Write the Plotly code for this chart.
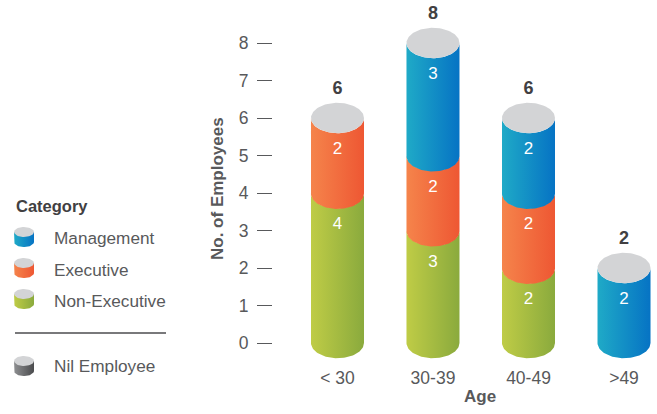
import numpy as np
import plotly.graph_objects as go

W, H = 657, 414

# ---------------- data ----------------
categories = ["< 30", "30-39", "40-49", ">49"]
non_executive = [4, 3, 2, 0]
executive = [2, 2, 2, 0]
management = [0, 3, 2, 2]
series_names = ["Non-Executive", "Executive", "Management"]
y_ticks = [0, 1, 2, 3, 4, 5, 6, 7, 8]
legend_order = ["Management", "Executive", "Non-Executive"]
nil_label = "Nil Employee"

# ---------------- styles ----------------
FONT = "Liberation Sans, Arial, Helvetica, sans-serif"
TXT = "#58595b"
DARK = "#414042"
grad = {
    "Non-Executive": ("#bfcc46", "#8aaa3d"),
    "Executive": ("#f5844b", "#ee5733"),
    "Management": ("#1faac7", "#0673c4"),
}
CAP = "#d3d4d6"
NIL = ("#8e8f91", "#4a4b4d")

HALF = 0.2775   # half bar width in category units
RY = 0.405      # ellipse half height in value units
N = 60

series_vals = {"Non-Executive": non_executive, "Executive": executive, "Management": management}

fig = go.Figure()


def seg_poly(cx, y0, y1, eps=0.0):
    t = np.linspace(0, np.pi, N)
    xs_top = cx - HALF * np.cos(t)
    ys_top = y1 - RY * np.sin(t)
    xs_bot = cx + HALF * np.cos(t)
    ys_bot = (y0 - eps) - RY * np.sin(t)
    xs = np.concatenate([[cx - HALF], xs_top, xs_bot])
    ys = np.concatenate([[y0 - eps], ys_top, ys_bot])
    return xs, ys


seg_text_x, seg_text_y, seg_text = [], [], []
tot_x, tot_y, tot_text = [], [], []
for i, cat in enumerate(categories):
    base = 0
    for name in series_names:
        v = series_vals[name][i]
        if v <= 0:
            continue
        xs, ys = seg_poly(i, base, base + v, eps=0.02 if base > 0 else 0.0)
        c1, c2 = grad[name]
        fig.add_trace(go.Scatter(
            x=xs, y=ys, mode="lines", fill="toself",
            line=dict(width=0, color=c2),
            fillgradient=dict(type="horizontal", colorscale=[[0, c1], [1, c2]]),
            hoverinfo="skip", showlegend=False, xaxis="x", yaxis="y",
        ))
        seg_text_x.append(i)
        seg_text_y.append(base + v - 0.85)
        seg_text.append(str(v))
        base += v
    # top cap
    t = np.linspace(0, 2 * np.pi, 2 * N)
    fig.add_trace(go.Scatter(
        x=i + HALF * np.cos(t), y=base + RY * np.sin(t), mode="lines", fill="toself",
        line=dict(width=0, color=CAP), fillcolor=CAP,
        hoverinfo="skip", showlegend=False, xaxis="x", yaxis="y",
    ))
    tot_x.append(i)
    tot_y.append(base + 0.75)
    tot_text.append(str(base))

fig.add_trace(go.Scatter(
    x=seg_text_x, y=seg_text_y, text=seg_text, mode="text",
    textfont=dict(family=FONT, size=17, color="white"),
    hoverinfo="skip", showlegend=False, cliponaxis=False,
))
fig.add_trace(go.Scatter(
    x=tot_x, y=tot_y, text=tot_text, mode="text",
    textfont=dict(family=FONT, size=18, color=DARK, weight="bold"),
    hoverinfo="skip", showlegend=False, cliponaxis=False,
))

# ---------------- custom legend (pixel overlay axes) ----------------
def icon(cx, cy, c1, c2, h=10, bh=10, ry=5):
    t = np.linspace(0, np.pi, 30)
    xs = np.concatenate([[cx - h, cx - h], cx - h * np.cos(t), [cx + h, cx - h]])
    ys = np.concatenate([[cy, cy + bh], cy + bh + ry * np.sin(t), [cy, cy]])
    fig.add_trace(go.Scatter(
        x=xs, y=ys, mode="lines", fill="toself", line=dict(width=0, color=c2),
        fillgradient=dict(type="horizontal", colorscale=[[0, c1], [1, c2]]),
        hoverinfo="skip", showlegend=False, xaxis="x2", yaxis="y2",
    ))
    t2 = np.linspace(0, 2 * np.pi, 60)
    fig.add_trace(go.Scatter(
        x=cx + h * np.cos(t2), y=cy + ry * np.sin(t2), mode="lines", fill="toself",
        line=dict(width=0, color=CAP), fillcolor=CAP,
        hoverinfo="skip", showlegend=False, xaxis="x2", yaxis="y2",
    ))


annotations = []
legend_rows = [232, 263, 294]
text_rows = [238, 270, 301]
for name, cy, ty in zip(legend_order, legend_rows, text_rows):
    icon(24, cy, *grad[name])
    annotations.append(dict(x=52 / W, y=1 - ty / H, xref="paper", yref="paper", text=name,
                            showarrow=False, xanchor="left", yanchor="middle",
                            font=dict(family=FONT, size=17.2, color=TXT)))
icon(24, 361, *NIL)
annotations.append(dict(x=52 / W, y=1 - 366 / H, xref="paper", yref="paper", text=nil_label,
                        showarrow=False, xanchor="left", yanchor="middle",
                        font=dict(family=FONT, size=17.2, color=TXT)))
annotations.append(dict(x=14 / W, y=1 - 206 / H, xref="paper", yref="paper", text="Category",
                        showarrow=False, xanchor="left", yanchor="middle",
                        font=dict(family=FONT, size=16.5, color=DARK, weight="bold")))
annotations.append(dict(x=217 / W, y=1 - 189 / H, xref="paper", yref="paper", text="No. of Employees",
                        showarrow=False, textangle=-90, xanchor="center", yanchor="middle",
                        font=dict(family=FONT, size=17, color=TXT, weight="bold")))
annotations.append(dict(x=480 / W, y=1 - 396 / H, xref="paper", yref="paper", text="Age",
                        showarrow=False, xanchor="center", yanchor="middle",
                        font=dict(family=FONT, size=17, color=TXT, weight="bold")))

shapes = [dict(type="line", xref="paper", yref="paper", x0=15 / W, x1=166 / W,
               y0=1 - 333 / H, y1=1 - 333 / H, line=dict(color="#4d4d4f", width=1.6))]

plot_left, plot_right = 273, 652
plot_top, plot_bottom = 9.25, 365.5

fig.update_layout(
    width=W, height=H, margin=dict(l=0, r=0, t=0, b=0),
    paper_bgcolor="white", plot_bgcolor="rgba(0,0,0,0)",
    showlegend=False, annotations=annotations, shapes=shapes,
    xaxis=dict(domain=[plot_left / W, plot_right / W], range=[-0.675, 3.293],
               tickvals=list(range(len(categories))), ticktext=categories,
               showgrid=False, zeroline=False, showline=False, ticks="",
               tickfont=dict(family=FONT, size=17.5, color=TXT), fixedrange=True),
    yaxis=dict(domain=[1 - plot_bottom / H, 1 - plot_top / H], range=[-0.6, 8.9],
               tickvals=y_ticks, showgrid=False, zeroline=False, showline=False,
               ticks="outside", ticklen=15, tickwidth=1.2, tickcolor="#58595b",
               ticklabelstandoff=5,
               tickfont=dict(family=FONT, size=17.5, color=TXT), fixedrange=True),
    xaxis2=dict(domain=[0, 1], range=[0, W], anchor="y2", visible=False, fixedrange=True),
    yaxis2=dict(domain=[0, 1], range=[H, 0], anchor="x2", visible=False, fixedrange=True),
)

fig.write_html("out.html")
